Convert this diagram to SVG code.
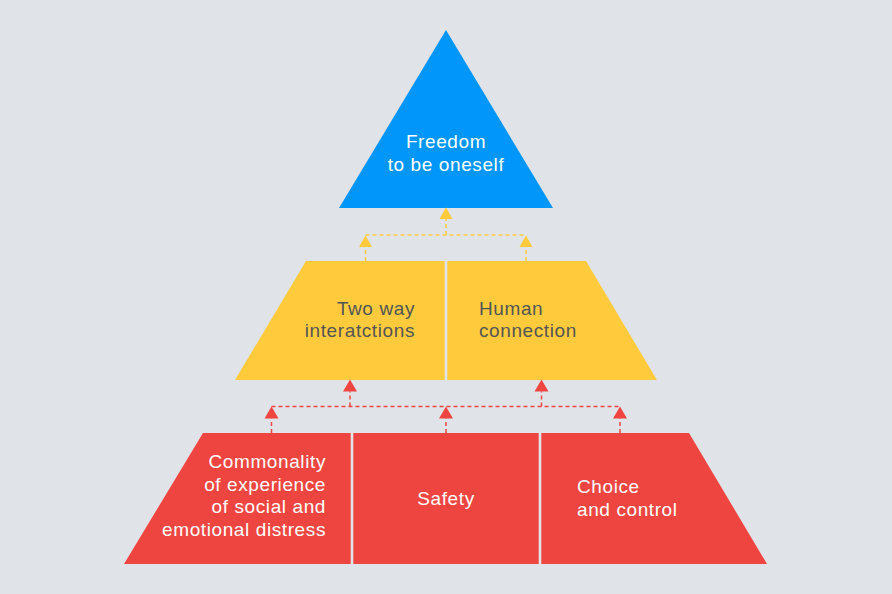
<svg xmlns="http://www.w3.org/2000/svg" width="892" height="594" viewBox="0 0 892 594">
<style>
.t{font-family:"Liberation Sans",Arial,sans-serif;font-size:19px;letter-spacing:0.6px;}
.w{fill:#ffffff;}
.d{fill:#555555;}
.yl{stroke:#FFCB3D;stroke-width:1.5;stroke-dasharray:4 3;fill:none;}
.rl{stroke:#EF4540;stroke-width:1.5;stroke-dasharray:4 3;fill:none;}
.ya{fill:#FFCB3D;}
.ra{fill:#EF4540;}
</style>
<rect width="892" height="594" fill="#E0E3E8"/>
<g id="top">
<polygon points="446,30 553,208 339,208" fill="#0096FA"/>
<text class="t w" x="446" y="148" text-anchor="middle">Freedom</text>
<text class="t w" x="446" y="171" text-anchor="middle">to be oneself</text>
</g>
<g id="two-way">
<polygon points="306,261 444.7,261 444.7,380 235,380" fill="#FFCB3D"/>
<text class="t d" x="415" y="315" text-anchor="end">Two way</text>
<text class="t d" x="415" y="337" text-anchor="end">interatctions</text>
</g>
<g id="human">
<polygon points="447.3,261 586,261 657,380 447.3,380" fill="#FFCB3D"/>
<text class="t d" x="479" y="315">Human</text>
<text class="t d" x="479" y="337">connection</text>
</g>
<g id="commonality">
<polygon points="203,433 350.7,433 350.7,564 124,564" fill="#EF4540"/>
<text class="t w" x="326" y="468" text-anchor="end">Commonality</text>
<text class="t w" x="326" y="490.5" text-anchor="end">of experience</text>
<text class="t w" x="326" y="513" text-anchor="end">of social and</text>
<text class="t w" x="326" y="535.5" text-anchor="end">emotional distress</text>
</g>
<g id="safety">
<polygon points="353.3,433 538.7,433 538.7,564 353.3,564" fill="#EF4540"/>
<text class="t w" x="446" y="505" text-anchor="middle">Safety</text>
</g>
<g id="choice">
<polygon points="541.3,433 689,433 767,564 541.3,564" fill="#EF4540"/>
<text class="t w" x="577" y="493">Choice</text>
<text class="t w" x="577" y="515.5">and control</text>
</g>
<g id="connectors">
<path class="yl" d="M365.5,261 V247 M526,261 V247 M365.5,235 H526 M446,235 V219"/>
<polygon class="ya" points="446,207.5 452.5,219 439.5,219"/>
<polygon class="ya" points="365.5,235.5 372,247 359,247"/>
<polygon class="ya" points="526,235.5 532.5,247 519.5,247"/>
<path class="rl" d="M271.5,433 V418.5 M446,433 V418.5 M620,433 V418.5 M271.5,406.5 H620 M350,406.5 V391.5 M541.5,406.5 V391.5"/>
<polygon class="ra" points="350,379.5 357,391.5 343,391.5"/>
<polygon class="ra" points="541.5,379.5 548.5,391.5 534.5,391.5"/>
<polygon class="ra" points="271.5,406.5 278.5,418.5 264.5,418.5"/>
<polygon class="ra" points="446,406.5 453,418.5 439,418.5"/>
<polygon class="ra" points="620,406.5 627,418.5 613,418.5"/>
</g>
</svg>
